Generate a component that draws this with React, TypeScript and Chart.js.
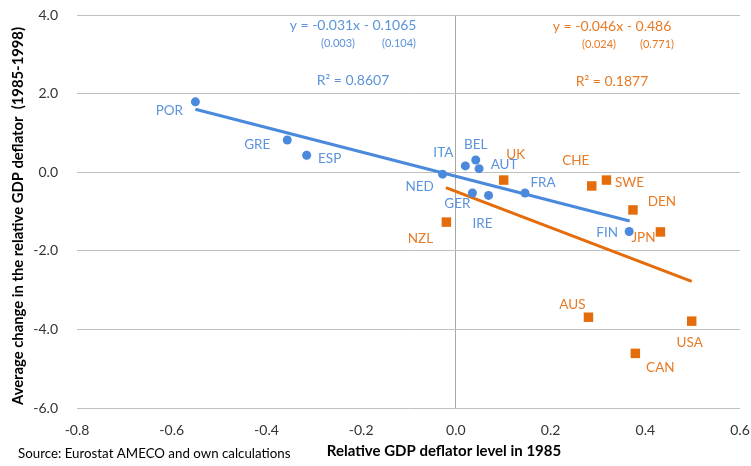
import React, { useEffect, useRef } from "react";
import { Chart, registerables } from "chart.js";

Chart.register(...registerables);

// ---- data ----
const euroLabels = ["POR", "GRE", "ESP", "ITA", "BEL", "AUT", "NED", "GER", "IRE", "FRA", "FIN"];
const euroX = [-0.55, -0.356, -0.315, 0.02, 0.042, 0.049, -0.028, 0.035, 0.069, 0.146, 0.366];
const euroY = [1.79, 0.82, 0.43, 0.16, 0.31, 0.09, -0.05, -0.53, -0.59, -0.53, -1.51];

const otherLabels = ["UK", "CHE", "SWE", "DEN", "JPN", "NZL", "AUS", "USA", "CAN"];
const otherX = [0.101, 0.287, 0.318, 0.374, 0.432, -0.02, 0.28, 0.498, 0.379];
const otherY = [-0.2, -0.35, -0.2, -0.96, -1.52, -1.27, -3.69, -3.79, -4.61];

const euroTrendX = [-0.55, 0.367];
const euroTrendY = [1.6, -1.24];
const otherTrendX = [-0.021, 0.498];
const otherTrendY = [-0.39, -2.78];

const xTicks = [-0.8, -0.6, -0.4, -0.2, 0.0, 0.2, 0.4, 0.6];
const yTicks = [-6, -4, -2, 0, 2, 4];

// ---- styles ----
const BLUE = "#4a89dc";
const BLUE_TEXT = "#5b93dc";
const ORANGE = "#e46c0a";
const ORANGE_TEXT = "#e97a24";
const FONT = "Lato, 'Open Sans', sans-serif";

// label offsets (pixels from point centre) – styling only
const euroLabelOffsets: [number, number][] = [
  [-26, 9], [-30, 5], [23, 3], [-22, -13], [0, -15], [25, -4],
  [-23, 12], [-15, 11], [-6, 28], [18, -10], [-22, 1],
];
const otherLabelOffsets: [number, number][] = [
  [12, -25], [-16, -25], [23, 3], [29, -8], [-17, 6], [-26, 17],
  [-16, -13], [-2, 21], [25, 14],
];

const toPoints = (xs: number[], ys: number[]) => xs.map((x, i) => ({ x, y: ys[i] }));

const textPlugin = {
  id: "textPlugin",
  afterDatasetsDraw(chart: any) {
    const ctx = chart.ctx as CanvasRenderingContext2D;
    ctx.save();
    ctx.textAlign = "center";
    ctx.textBaseline = "middle";
    ctx.font = `13.5px ${FONT}`;
    const m0 = chart.getDatasetMeta(0);
    ctx.fillStyle = BLUE_TEXT;
    m0.data.forEach((el: any, i: number) => {
      const [dx, dy] = euroLabelOffsets[i];
      ctx.fillText(euroLabels[i], el.x + dx, el.y + dy);
    });
    const m1 = chart.getDatasetMeta(1);
    ctx.fillStyle = ORANGE_TEXT;
    m1.data.forEach((el: any, i: number) => {
      const [dx, dy] = otherLabelOffsets[i];
      ctx.fillText(otherLabels[i], el.x + dx, el.y + dy);
    });

    // regression equations
    ctx.fillStyle = BLUE_TEXT;
    ctx.font = `14px ${FONT}`;
    ctx.fillText("y = -0.031x - 0.1065", 353, 25);
    ctx.fillText("R² = 0.8607", 353, 80);
    ctx.font = `11px ${FONT}`;
    ctx.fillText("(0.003)", 338, 43);
    ctx.fillText("(0.104)", 399, 43);

    ctx.fillStyle = ORANGE_TEXT;
    ctx.font = `14px ${FONT}`;
    ctx.fillText("y = -0.046x - 0.486", 612, 26);
    ctx.fillText("R² = 0.1877", 612, 81);
    ctx.font = `11px ${FONT}`;
    ctx.fillText("(0.024)", 599, 44);
    ctx.fillText("(0.771)", 657, 44);

    // axis titles
    ctx.fillStyle = "#000";
    ctx.font = `bold 15px ${FONT}`;
    ctx.fillText("Relative GDP deflator level in 1985", 444, 451);
    ctx.save();
    ctx.translate(18, 216);
    ctx.rotate(-Math.PI / 2);
    ctx.font = `bold 14.8px ${FONT}`;
    ctx.fillText("Average change in the relative GDP deflator  (1985-1998)", 0, 0);
    ctx.restore();

    // source
    ctx.textAlign = "left";
    ctx.font = `13.3px ${FONT}`;
    ctx.fillStyle = "#000";
    ctx.fillText("Source: Eurostat AMECO and own calculations", 18, 454);
    ctx.restore();
  },
};

export default function App() {
  const ref = useRef<HTMLCanvasElement>(null);
  useEffect(() => {
    if (!ref.current) return;
    const chart = new Chart(ref.current, {
      type: "scatter",
      data: {
        datasets: [
          {
            data: toPoints(euroX, euroY),
            pointStyle: "circle",
            pointRadius: 4.5,
            backgroundColor: BLUE,
            borderWidth: 0,
          },
          {
            data: toPoints(otherX, otherY),
            pointStyle: "rect",
            pointRadius: 6.7,
            backgroundColor: ORANGE,
            borderWidth: 0,
          },
          {
            type: "line",
            data: toPoints(euroTrendX, euroTrendY),
            borderColor: BLUE,
            borderWidth: 3,
            pointRadius: 0,
            showLine: true,
          } as any,
          {
            type: "line",
            data: toPoints(otherTrendX, otherTrendY),
            borderColor: ORANGE,
            borderWidth: 3,
            pointRadius: 0,
            showLine: true,
          } as any,
        ],
      },
      options: {
        animation: false,
        responsive: false,
        layout: { padding: { top: 15, right: 11, left: 0, bottom: 0 } },
        plugins: { legend: { display: false }, tooltip: { enabled: false } },
        scales: {
          x: {
            type: "linear",
            min: xTicks[0],
            max: xTicks[xTicks.length - 1],
            afterBuildTicks: (s: any) => {
              s.ticks = xTicks.map((v) => ({ value: v }));
            },
            afterFit: (s: any) => {
              s.height = 58;
              s.paddingLeft = 0;
              s.paddingRight = 0;
            },
            ticks: {
              callback: (v: any) => Number(v).toFixed(1),
              font: { family: FONT, size: 14 },
              color: "#333",
              padding: 14,
              maxRotation: 0,
            },
            grid: {
              drawTicks: false,
              color: (c: any) => (c.tick && Math.abs(c.tick.value) < 1e-9 ? "#a6a6a6" : "rgba(0,0,0,0)"),
              lineWidth: 1,
            },
            border: { display: false },
          },
          y: {
            type: "linear",
            min: yTicks[0],
            max: yTicks[yTicks.length - 1],
            afterBuildTicks: (s: any) => {
              s.ticks = yTicks.map((v) => ({ value: v }));
            },
            afterFit: (s: any) => {
              s.width = 77;
              s.paddingTop = 0;
              s.paddingBottom = 0;
            },
            ticks: {
              callback: (v: any) => Number(v).toFixed(1),
              font: { family: FONT, size: 14 },
              color: "#333",
              padding: 19,
            },
            grid: { drawTicks: false, color: "#c0c0c0", lineWidth: 1 },
            border: { display: false },
          },
        },
      },
      plugins: [textPlugin],
    });
    return () => chart.destroy();
  }, []);
  return (
    <div style={{ position: "absolute", left: 0, top: 0, width: 751, height: 466, background: "#fff" }}>
      <canvas ref={ref} width={751} height={466} />
    </div>
  );
}
